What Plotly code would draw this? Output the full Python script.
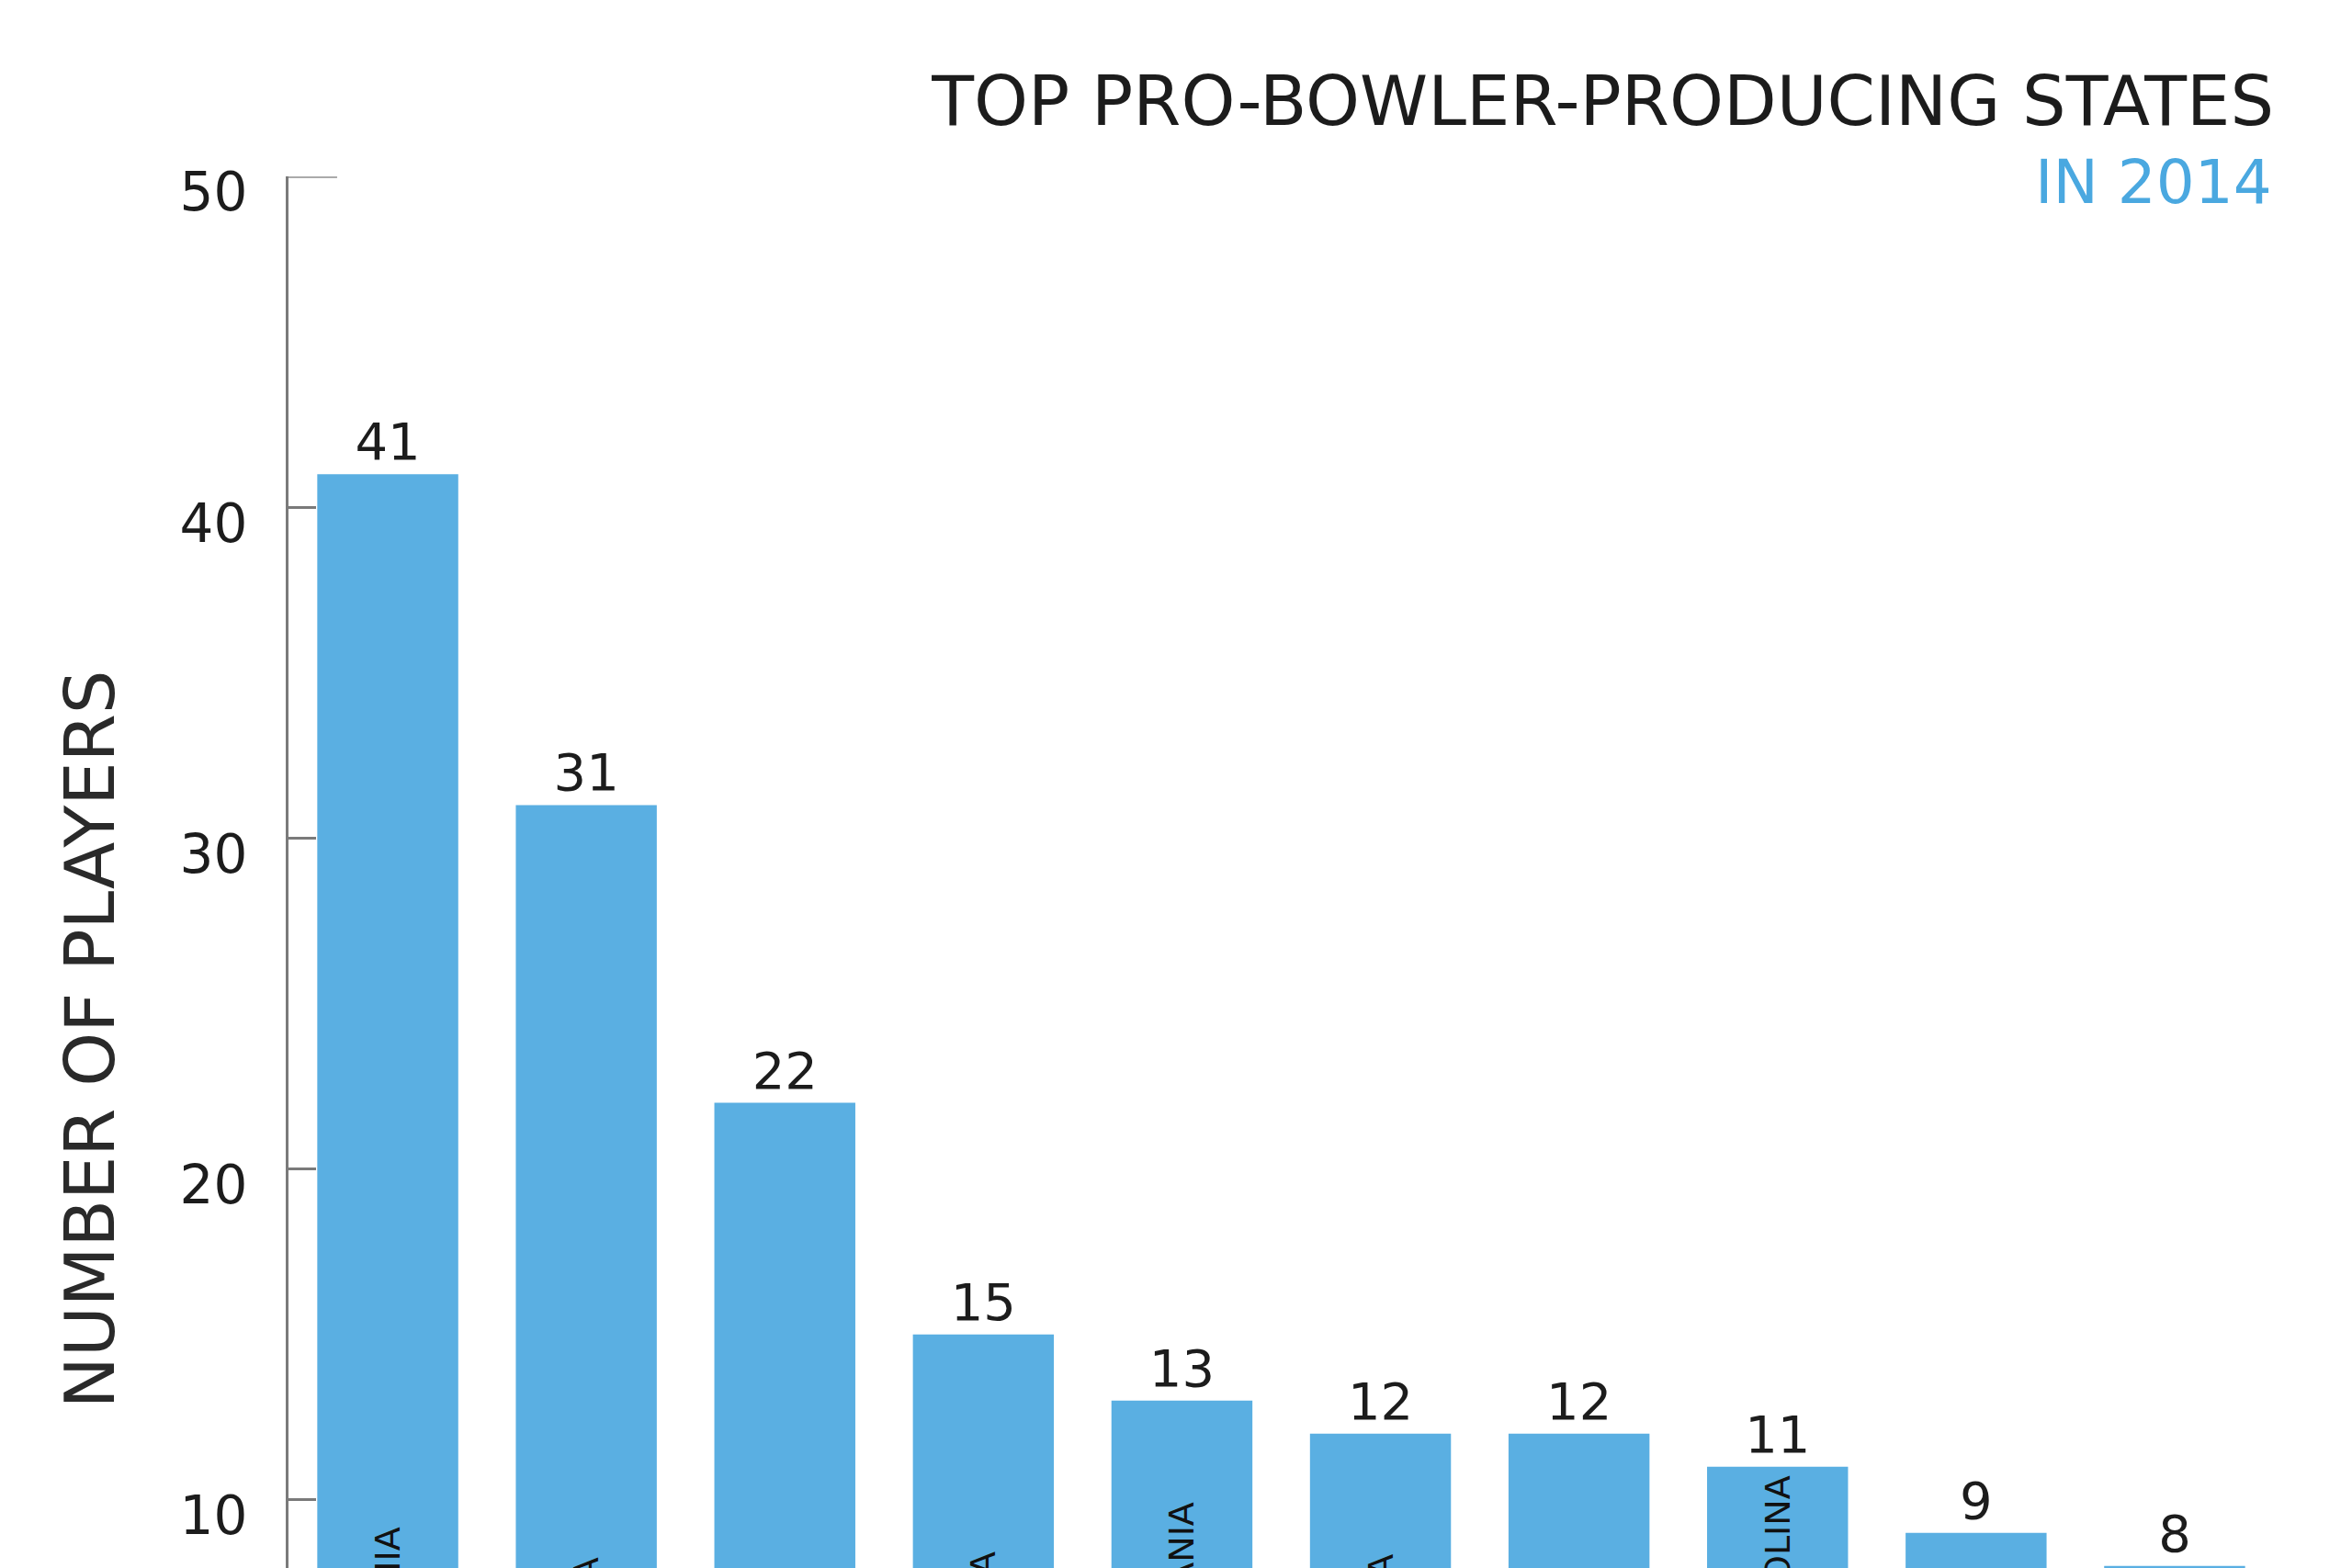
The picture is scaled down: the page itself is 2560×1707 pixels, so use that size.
import plotly.graph_objects as go

# ── Data ──────────────────────────────────────────────
ranks   = [1, 2, 3, 4, 5, 6, 7, 8, 9, 10]
states  = ['CALIFORNIA', 'FLORIDA', 'TEXAS', 'GEORGIA', 'PENNSYLVANIA',
           'VIRGINIA', '', 'NORTH CAROLINA', '', '']
players = [41, 31, 22, 15, 13, 12, 12, 11, 9, 8]
y_ticks = [10, 20, 30, 40, 50]

# ── Style ─────────────────────────────────────────────
FONT  = 'DejaVu Sans'
BLUE  = '#5aafe2'
INK   = '#1c1c1c'
GREY  = '#7a7a7a'
Y_MIN = 7.94          # the picture is cut just under the 8 bar
W, H  = 2552, 1699    # page body keeps an 8px margin

fig = go.Figure(go.Bar(
    x=ranks, y=players,
    marker=dict(color=BLUE, line=dict(width=0)),
    text=players, textposition='outside',
    textfont=dict(family=FONT, size=56, color=INK),
))

# state names inside the bars, centred low down, reading bottom-to-top
for r, s in zip(ranks, states):
    if s:
        fig.add_annotation(x=r, y=Y_MIN, text=s, textangle=-90,
                           showarrow=False, yanchor='middle', yshift=-70,
                           font=dict(family=FONT, size=38, color='#111111'))

fig.add_annotation(xref='paper', yref='paper', x=1, y=0.996, text='IN 2014',
                   xanchor='right', yanchor='middle', showarrow=False,
                   font=dict(family=FONT, size=66, color='#4aa8e0'))
fig.add_annotation(xref='paper', yref='paper', x=-0.1, y=0.38,
                   text='NUMBER OF PLAYERS', textangle=-90, showarrow=False,
                   xanchor='center', yanchor='middle',
                   font=dict(family=FONT, size=75, color='#2a2a2a'))

# longer cap tick at the top of the axis
fig.add_shape(type='line', xref='x', yref='y', x0=0.5, x1=0.745, y0=50, y1=50,
              line=dict(color='#aaaaaa', width=4))

fig.update_layout(
    width=W, height=H,
    title=dict(text='TOP PRO-BOWLER-PRODUCING STATES', xref='paper', x=1,
               xanchor='right', yref='container', y=1 - 102 / H,
               yanchor='middle', font=dict(family=FONT, size=75, color=INK)),
    margin=dict(l=306, r=85, t=184, b=0),
    paper_bgcolor='white', plot_bgcolor='white',
    bargap=0.29, showlegend=False,
    xaxis=dict(range=[0.5, 10.5], visible=False),
    yaxis=dict(range=[Y_MIN, 50], tickvals=y_ticks, ticks='inside',
               ticklen=30, tickwidth=3, tickcolor=GREY,
               showline=True, linecolor=GREY, linewidth=3,
               showgrid=False, zeroline=False,
               tickfont=dict(family=FONT, size=58, color=INK),
               ticklabelstandoff=30, ticklabelshift=17),
)

fig.write_html('out.html')
